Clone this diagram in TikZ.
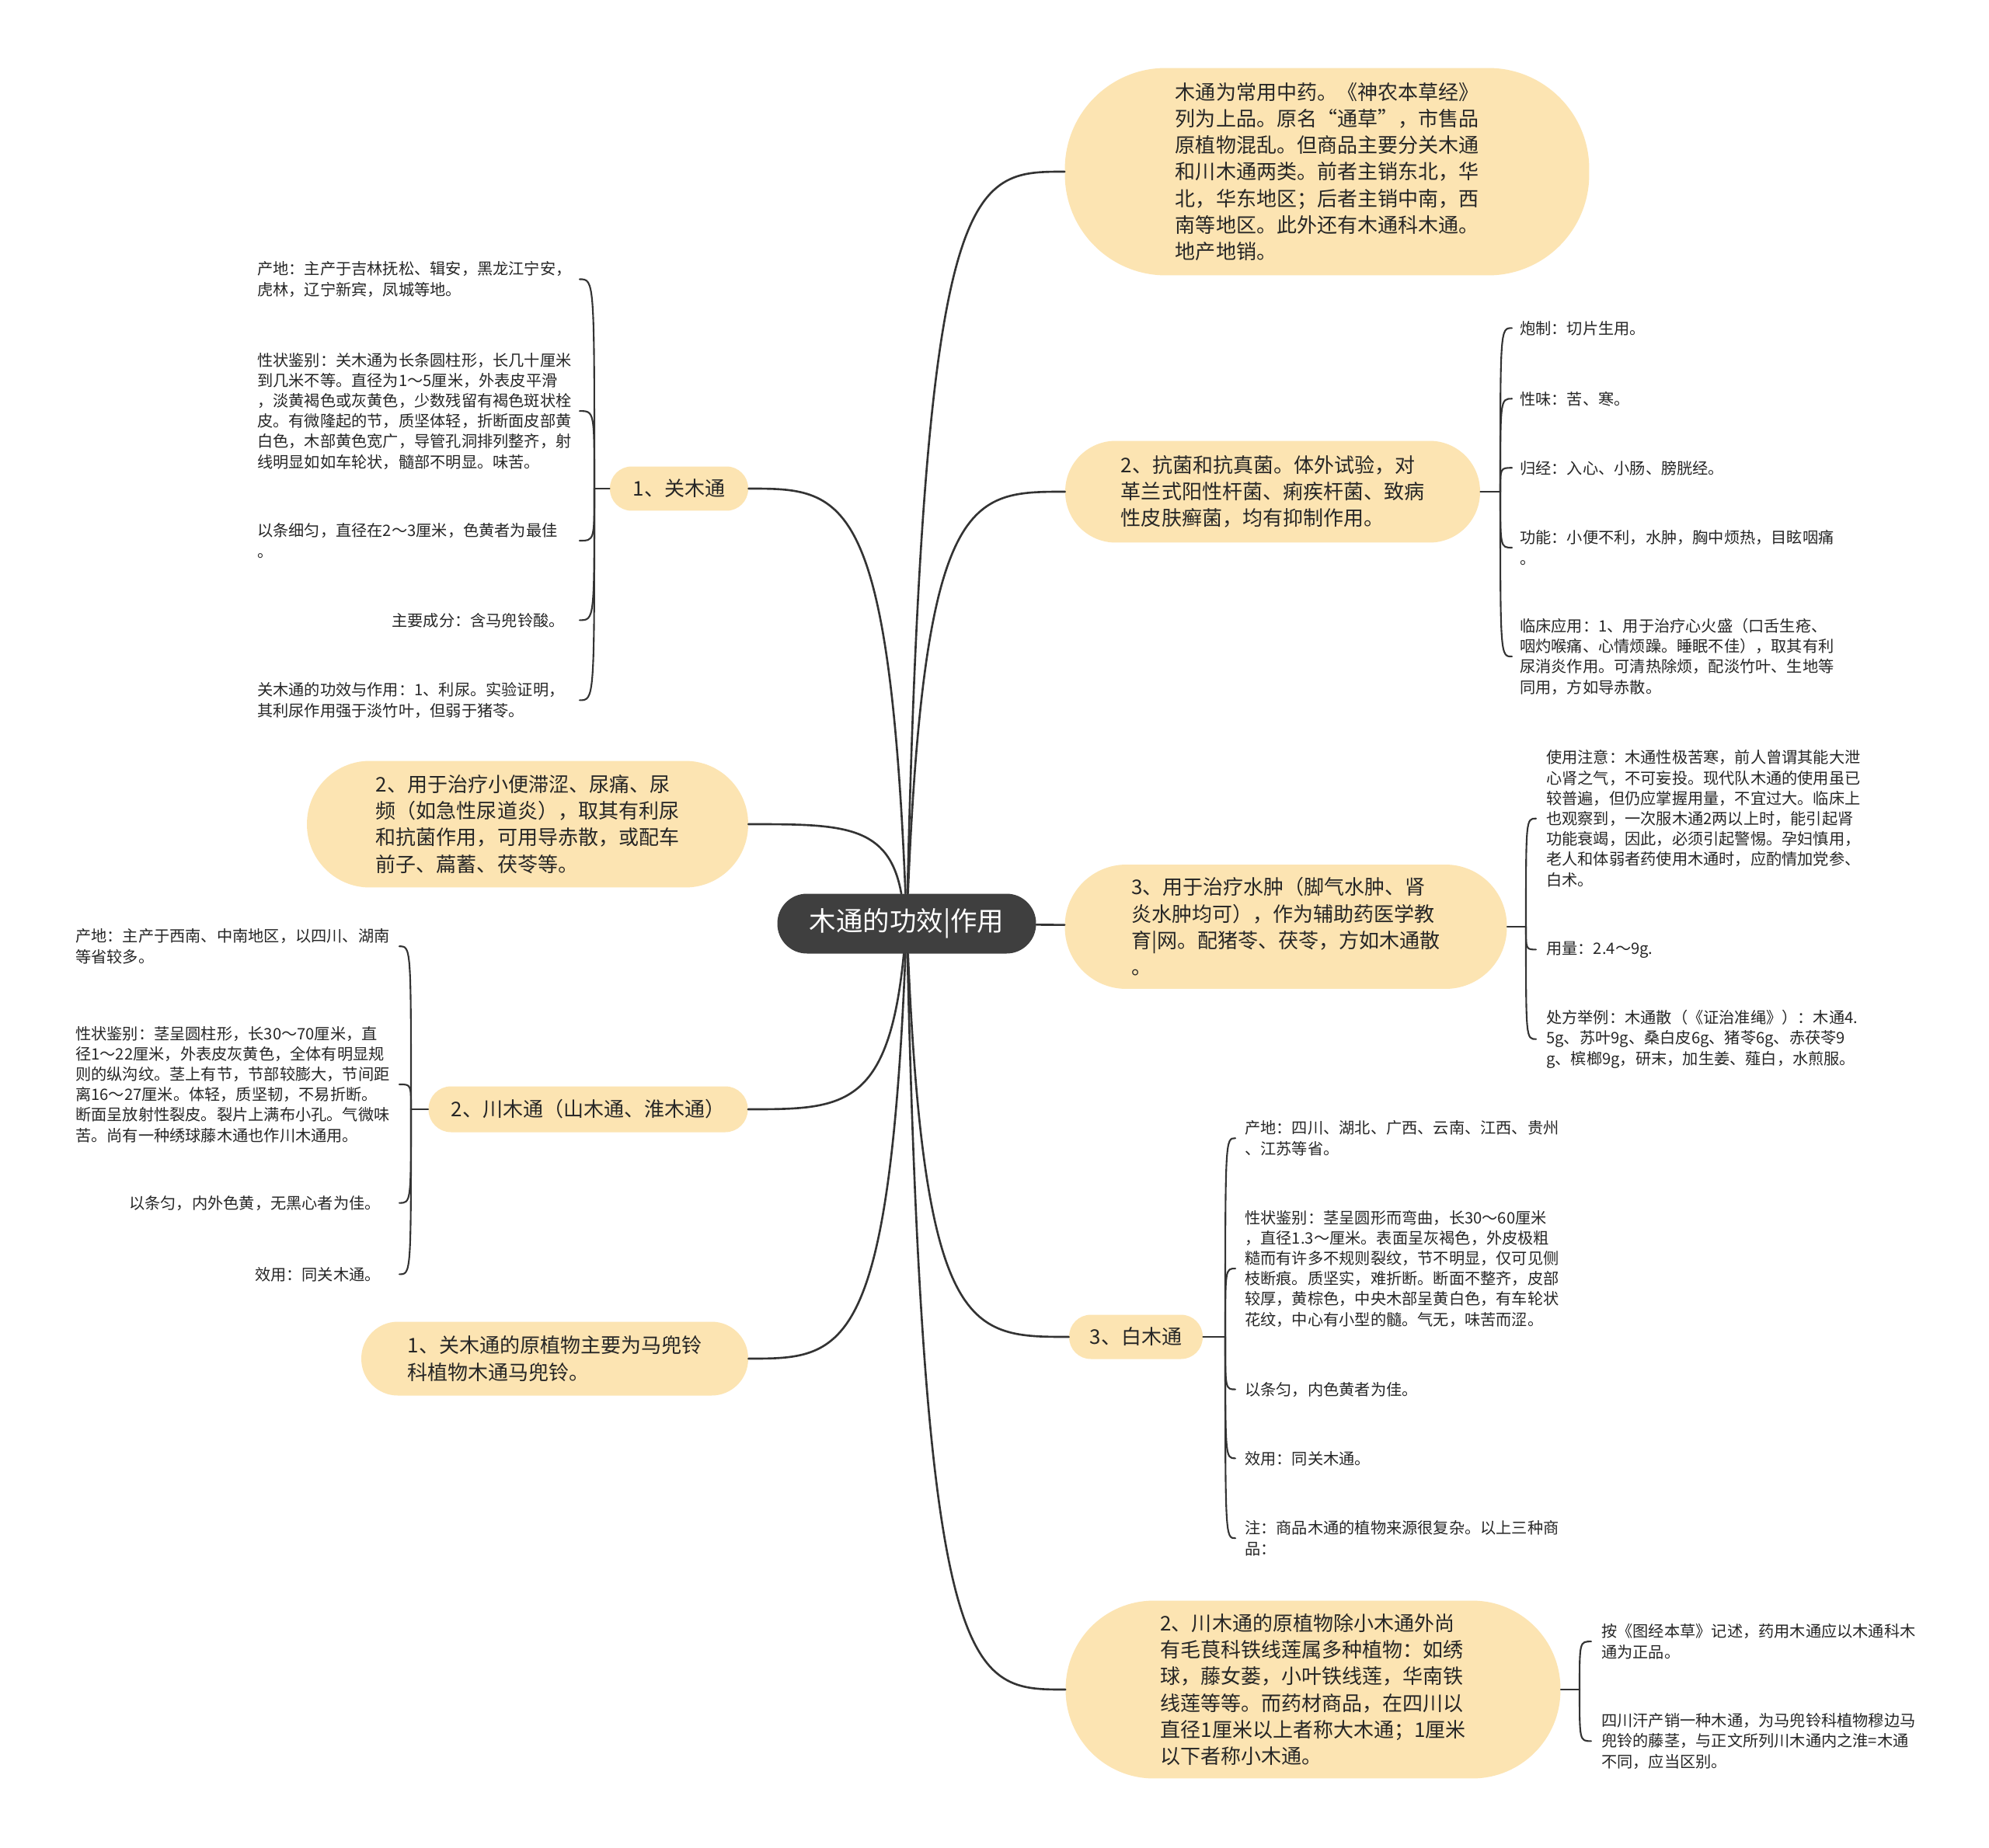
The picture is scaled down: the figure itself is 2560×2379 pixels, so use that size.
\documentclass[tikz,border=0pt]{standalone}
\usepackage{fontspec}
\setmainfont{Noto Sans CJK SC}
\usepackage{tikz}
\definecolor{mapdark}{HTML}{3F3F3F}
\definecolor{mapfill}{HTML}{FCE4B2}
\definecolor{mapline}{HTML}{333333}
\definecolor{maptext}{HTML}{262626}
\tikzset{
every picture/.style={line cap=round,line join=round},
root node/.style={
  fill=mapdark,
  text=white,
  rounded corners=0.76cm,
  minimum width=6.66cm,
  minimum height=1.54cm,
  inner sep=0pt,
  font=\fontsize{19.6}{23}\selectfont
},
topic box/.style={
  fill=mapfill,
  text=maptext,
  align=left,
  inner sep=0pt,
  font=\fontsize{14.8}{19.5}\selectfont
},
leaf text/.style={text=maptext, align=left, inner sep=0pt, font=\fontsize{11.5}{14.9}\selectfont},
main link/.style={draw=mapline, line width=1.5pt},
leaf link/.style={draw=mapline, line width=1.2pt}
}

\begin{document}
\begin{tikzpicture}[x=0.02cm,y=-0.02cm]
\fill[white] (0,0) rectangle (2560,2379);
\useasboundingbox (0,0) rectangle (2560,2379);

% centre
\node[root node] (root) at (1167,1189) {木通的功效|作用};

% right topics
\node[topic box,minimum width=13.5cm,minimum height=5.34cm,rounded corners=2.6cm] (intro) at (1708,221)
  {木通为常用中药。《神农本草经》\\列为上品。原名“通草”，市售品\\原植物混乱。但商品主要分关木通\\和川木通两类。前者主销东北，华\\北，华东地区；后者主销中南，西\\南等地区。此外还有木通科木通。\\地产地销。};
\node[topic box,minimum width=10.68cm,minimum height=2.62cm,rounded corners=1.3cm] (antibac) at (1638,633)
  {2、抗菌和抗真菌。体外试验，对\\革兰式阳性杆菌、痢疾杆菌、致病\\性皮肤癣菌，均有抑制作用。};
\node[topic box,minimum width=11.38cm,minimum height=3.2cm,rounded corners=1.58cm] (edema) at (1655,1193)
  {3、用于治疗水肿（脚气水肿、肾\\炎水肿均可），作为辅助药医学教\\育|网。配猪苓、茯苓，方如木通散\\。};
\node[topic box,minimum width=3.44cm,minimum height=1.14cm,rounded corners=0.56cm] (bai) at (1462,1721) {3、白木通};
\node[topic box,minimum width=12.74cm,minimum height=4.58cm,rounded corners=2.27cm] (chuanorigin) at (1690,2175)
  {2、川木通的原植物除小木通外尚\\有毛茛科铁线莲属多种植物：如绣\\球，藤女蒌，小叶铁线莲，华南铁\\线莲等等。而药材商品，在四川以\\直径1厘米以上者称大木通；1厘米\\以下者称小木通。};

% left topics
\node[topic box,minimum width=3.56cm,minimum height=1.14cm,rounded corners=0.56cm] (guan) at (874,629) {1、关木通};
\node[topic box,minimum width=11.36cm,minimum height=3.26cm,rounded corners=1.62cm] (urine) at (679,1061)
  {2、用于治疗小便滞涩、尿痛、尿\\频（如急性尿道炎），取其有利尿\\和抗菌作用，可用导赤散，或配车\\前子、萹蓄、茯苓等。};
\node[topic box,minimum width=8.22cm,minimum height=1.18cm,rounded corners=0.58cm] (chuan) at (757,1428) {2、川木通（山木通、淮木通）};
\node[topic box,minimum width=9.96cm,minimum height=1.9cm,rounded corners=0.94cm] (guanorigin) at (714,1749)
  {1、关木通的原植物主要为马兜铃\\科植物木通马兜铃。};

\draw[main link] (root) .. controls (1190,221) and (1250,221) .. (intro.west);
\draw[main link] (root) .. controls (1190,633) and (1250,633) .. (antibac.west);
\draw[main link] (root) -- (edema);
\draw[main link] (root) .. controls (1190,1721) and (1250,1721) .. (bai.west);
\draw[main link] (root) .. controls (1190,2175) and (1250,2175) .. (chuanorigin.west);
\draw[main link] (root) .. controls (1144,629) and (1084,629) .. (guan.east);
\draw[main link] (root) .. controls (1144,1061) and (1084,1061) .. (urine.east);
\draw[main link] (root) .. controls (1144,1428) and (1084,1428) .. (chuan.east);
\draw[main link] (root) .. controls (1144,1749) and (1084,1749) .. (guanorigin.east);

% 关木通 leaves (base = last line)
\node[leaf text,anchor=base west] (g1) at (331,380) {产地：主产于吉林抚松、辑安，黑龙江宁安，\\虎林，辽宁新宾，凤城等地。};
\node[leaf text,anchor=base west] (g2) at (331,602) {性状鉴别：关木通为长条圆柱形，长几十厘米\\到几米不等。直径为1～5厘米，外表皮平滑\\，淡黄褐色或灰黄色，少数残留有褐色斑状栓\\皮。有微隆起的节，质坚体轻，折断面皮部黄\\白色，木部黄色宽广，导管孔洞排列整齐，射\\线明显如如车轮状，髓部不明显。味苦。};
\node[leaf text,anchor=base west] (g3) at (331,717) {以条细匀，直径在2～3厘米，色黄者为最佳\\。};
\node[leaf text,anchor=base east] (g4) at (727,806) {主要成分：含马兜铃酸。};
\node[leaf text,anchor=base west] (g5) at (331,922) {关木通的功效与作用：1、利尿。实验证明，\\其利尿作用强于淡竹叶，但弱于猪苓。};
\coordinate (gt) at (765,629);
\coordinate (gh) at (746,629);
\draw[leaf link] (guan.west) -- (gt);
\draw[leaf link] (gt) .. controls (gt |- g1) and (gt |- g1) .. (gh |- g1);
\draw[leaf link] (gt) .. controls (gt |- g2) and (gt |- g2) .. (gh |- g2);
\draw[leaf link] (gt) .. controls (gt |- g3) and (gt |- g3) .. (gh |- g3);
\draw[leaf link] (gt) .. controls (gt |- g4) and (gt |- g4) .. (gh |- g4);
\draw[leaf link] (gt) .. controls (gt |- g5) and (gt |- g5) .. (gh |- g5);

% 川木通 leaves
\node[leaf text,anchor=base west] (c1) at (97,1239) {产地：主产于西南、中南地区，以四川、湖南\\等省较多。};
\node[leaf text,anchor=base west] (c2) at (97,1469) {性状鉴别：茎呈圆柱形，长30～70厘米，直\\径1～22厘米，外表皮灰黄色，全体有明显规\\则的纵沟纹。茎上有节，节部较膨大，节间距\\离16～27厘米。体轻，质坚韧，不易折断。\\断面呈放射性裂皮。裂片上满布小孔。气微味\\苦。尚有一种绣球藤木通也作川木通用。};
\node[leaf text,anchor=base east] (c3) at (490,1556) {以条匀，内外色黄，无黑心者为佳。};
\node[leaf text,anchor=base east] (c4) at (490,1648) {效用：同关木通。};
\coordinate (ct) at (529,1428);
\coordinate (ch) at (514,1428);
\draw[leaf link] (chuan.west) -- (ct);
\draw[leaf link] (ct) .. controls (ct |- c1) and (ct |- c1) .. (ch |- c1);
\draw[leaf link] (ct) .. controls (ct |- c2) and (ct |- c2) .. (ch |- c2);
\draw[leaf link] (ct) .. controls (ct |- c3) and (ct |- c3) .. (ch |- c3);
\draw[leaf link] (ct) .. controls (ct |- c4) and (ct |- c4) .. (ch |- c4);

% 抗菌 leaves
\node[leaf text,anchor=base west] (a1) at (1956,430) {炮制：切片生用。};
\node[leaf text,anchor=base west] (a2) at (1956,521) {性味：苦、寒。};
\node[leaf text,anchor=base west] (a3) at (1956,610) {归经：入心、小肠、膀胱经。};
\node[leaf text,anchor=base west] (a4) at (1956,726) {功能：小便不利，水肿，胸中烦热，目眩咽痛\\。};
\node[leaf text,anchor=base west] (a5) at (1956,892) {临床应用：1、用于治疗心火盛（口舌生疮、\\咽灼喉痛、心情烦躁。睡眠不佳），取其有利\\尿消炎作用。可清热除烦，配淡竹叶、生地等\\同用，方如导赤散。};
\coordinate (at) at (1931,633);
\coordinate (ah) at (1946,633);
\draw[leaf link] (antibac.east) -- (at);
\draw[leaf link] (at) .. controls (at |- a1) and (at |- a1) .. (ah |- a1);
\draw[leaf link] (at) .. controls (at |- a2) and (at |- a2) .. (ah |- a2);
\draw[leaf link] (at) .. controls (at |- a3) and (at |- a3) .. (ah |- a3);
\draw[leaf link] (at) .. controls (at |- a4) and (at |- a4) .. (ah |- a4);
\draw[leaf link] (at) .. controls (at |- a5) and (at |- a5) .. (ah |- a5);

% 水肿 leaves
\node[leaf text,anchor=base west] (b1) at (1990,1140) {使用注意：木通性极苦寒，前人曾谓其能大泄\\心肾之气，不可妄投。现代队木通的使用虽已\\较普遍，但仍应掌握用量，不宜过大。临床上\\也观察到，一次服木通2两以上时，能引起肾\\功能衰竭，因此，必须引起警惕。孕妇慎用，\\老人和体弱者药使用木通时，应酌情加党参、\\白术。};
\node[leaf text,anchor=base west] (b2) at (1990,1228) {用量：2.4～9g.};
\node[leaf text,anchor=base west] (b3) at (1990,1370) {处方举例：木通散（《证治准绳》）：木通4.\\5g、苏叶9g、桑白皮6g、猪苓6g、赤茯苓9\\g、槟榔9g，研末，加生姜、薤白，水煎服。};
\coordinate (bt) at (1964,1193);
\coordinate (bh) at (1977,1193);
\draw[leaf link] (edema.east) -- (bt);
\draw[leaf link] (bt) .. controls (bt |- b1) and (bt |- b1) .. (bh |- b1);
\draw[leaf link] (bt) .. controls (bt |- b2) and (bt |- b2) .. (bh |- b2);
\draw[leaf link] (bt) .. controls (bt |- b3) and (bt |- b3) .. (bh |- b3);

% 白木通 leaves
\node[leaf text,anchor=base west] (w1) at (1602,1486) {产地：四川、湖北、广西、云南、江西、贵州\\、江苏等省。};
\node[leaf text,anchor=base west] (w2) at (1602,1706) {性状鉴别：茎呈圆形而弯曲，长30～60厘米\\，直径1.3～厘米。表面呈灰褐色，外皮极粗\\糙而有许多不规则裂纹，节不明显，仅可见侧\\枝断痕。质坚实，难折断。断面不整齐，皮部\\较厚，黄棕色，中央木部呈黄白色，有车轮状\\花纹，中心有小型的髓。气无，味苦而涩。};
\node[leaf text,anchor=base west] (w3) at (1602,1796) {以条匀，内色黄者为佳。};
\node[leaf text,anchor=base west] (w4) at (1602,1885) {效用：同关木通。};
\node[leaf text,anchor=base west] (w5) at (1602,2001) {注：商品木通的植物来源很复杂。以上三种商\\品：};
\coordinate (wt) at (1577,1721);
\coordinate (wh) at (1590,1721);
\draw[leaf link] (bai.east) -- (wt);
\draw[leaf link] (wt) .. controls (wt |- w1) and (wt |- w1) .. (wh |- w1);
\draw[leaf link] (wt) .. controls (wt |- w2) and (wt |- w2) .. (wh |- w2);
\draw[leaf link] (wt) .. controls (wt |- w3) and (wt |- w3) .. (wh |- w3);
\draw[leaf link] (wt) .. controls (wt |- w4) and (wt |- w4) .. (wh |- w4);
\draw[leaf link] (wt) .. controls (wt |- w5) and (wt |- w5) .. (wh |- w5);

% 川木通原植物 leaves
\node[leaf text,anchor=base west] (d1) at (2061,2134) {按《图经本草》记述，药用木通应以木通科木\\通为正品。};
\node[leaf text,anchor=base west] (d2) at (2061,2275) {四川汗产销一种木通，为马兜铃科植物穆边马\\兜铃的藤茎，与正文所列川木通内之淮=木通\\不同，应当区别。};
\coordinate (dt) at (2033,2175);
\coordinate (dh) at (2048,2175);
\draw[leaf link] (chuanorigin.east) -- (dt);
\draw[leaf link] (dt) .. controls (dt |- d1) and (dt |- d1) .. (dh |- d1);
\draw[leaf link] (dt) .. controls (dt |- d2) and (dt |- d2) .. (dh |- d2);
\end{tikzpicture}
\end{document}
